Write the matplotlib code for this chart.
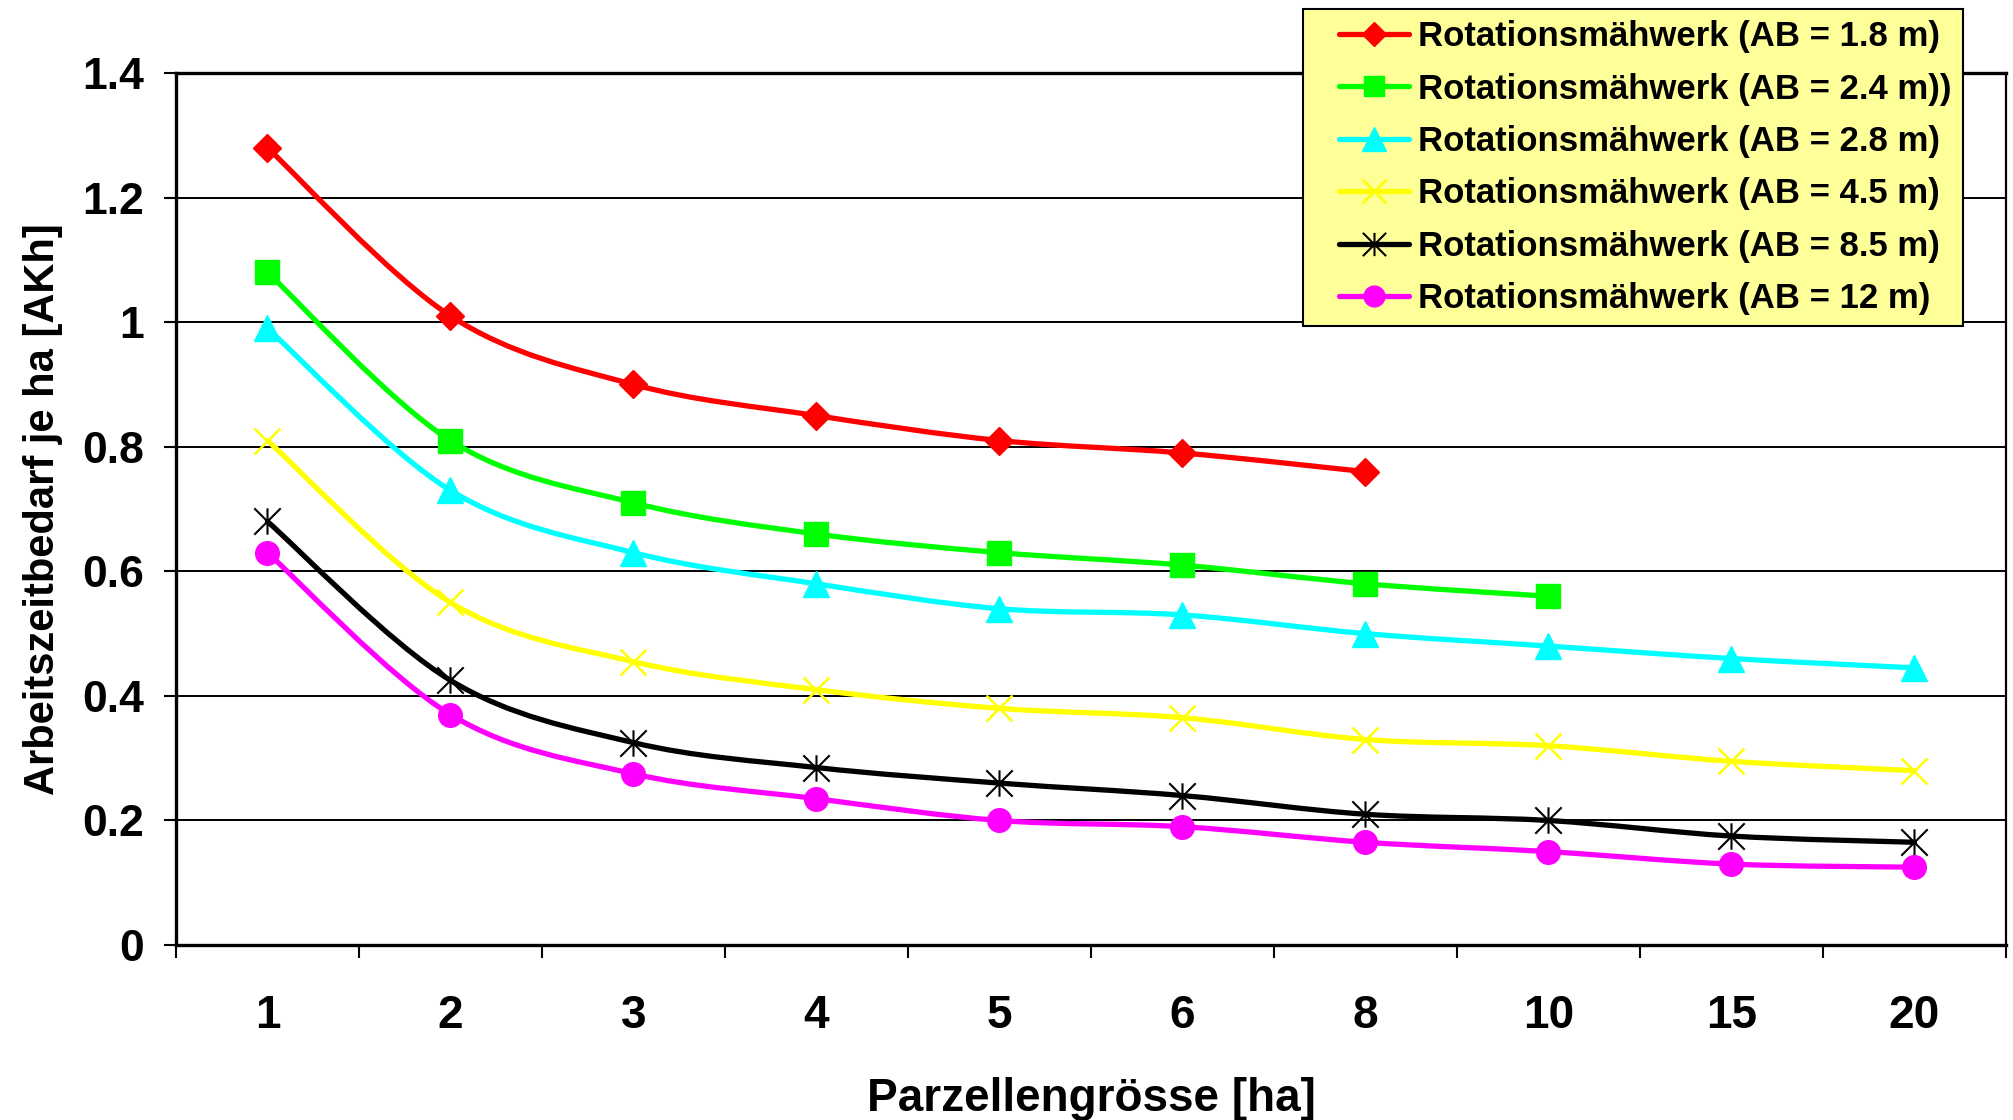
import matplotlib
matplotlib.use('Agg')
import matplotlib.pyplot as plt
import numpy as np
from matplotlib.path import Path
from matplotlib.patches import PathPatch
from matplotlib.lines import Line2D
from matplotlib.legend_handler import HandlerLine2D
from matplotlib.ticker import FuncFormatter, FixedLocator

plt.rcParams['font.family'] = ['Liberation Sans', 'DejaVu Sans']
plt.rcParams['font.weight'] = 'bold'
plt.rcParams['axes.labelweight'] = 'bold'

# Parzellengrösse [ha] (categorical axis)
parzellen = ['1', '2', '3', '4', '5', '6', '8', '10', '15', '20']

# Arbeitszeitbedarf je ha [AKh] per working width
ab_1_8 = [1.28, 1.01, 0.90, 0.85, 0.81, 0.79, 0.76]
ab_2_4 = [1.08, 0.81, 0.71, 0.66, 0.63, 0.61, 0.58, 0.56]
ab_2_8 = [0.99, 0.73, 0.63, 0.58, 0.54, 0.53, 0.50, 0.48, 0.46, 0.445]
ab_4_5 = [0.81, 0.55, 0.455, 0.41, 0.38, 0.365, 0.33, 0.32, 0.295, 0.28]
ab_8_5 = [0.68, 0.425, 0.325, 0.285, 0.26, 0.24, 0.21, 0.20, 0.175, 0.165]
ab_12 = [0.63, 0.37, 0.275, 0.235, 0.20, 0.19, 0.165, 0.15, 0.13, 0.125]

labels = ['Rotationsmähwerk (AB = 1.8 m)',
          'Rotationsmähwerk (AB = 2.4 m))',
          'Rotationsmähwerk (AB = 2.8 m)',
          'Rotationsmähwerk (AB = 4.5 m)',
          'Rotationsmähwerk (AB = 8.5 m)',
          'Rotationsmähwerk (AB = 12 m)']

# asterisk: vertical bar plus an X
star = Path([(0, -1), (0, 1), (-1, -1), (1, 1), (-1, 1), (1, -1)],
            [Path.MOVETO, Path.LINETO, Path.MOVETO, Path.LINETO, Path.MOVETO, Path.LINETO])

styles = [
    dict(color='#FF0000', marker='D', ms=14, mew=1),
    dict(color='#00FF00', marker='s', ms=17, mew=1),
    dict(color='#00FFFF', marker='^', ms=19, mew=1),
    dict(color='#FFFF00', marker='x', ms=19, mew=1.8),
    dict(color='#000000', marker=star, ms=19, mew=1.5),
    dict(color='#FF00FF', marker='o', ms=17, mew=1),
]
series = [ab_1_8, ab_2_4, ab_2_8, ab_4_5, ab_8_5, ab_12]


def smooth_path(x, y, k=1 / 6):
    # Bezier segments through the points (Excel-like smoothed line)
    pts = np.column_stack([x, y]).astype(float)
    n = len(pts)
    verts = [pts[0]]
    codes = [Path.MOVETO]
    for i in range(n - 1):
        p0 = pts[max(i - 1, 0)]
        p1 = pts[i]
        p2 = pts[i + 1]
        p3 = pts[min(i + 2, n - 1)]
        verts += [p1 + (p2 - p0) * k, p2 - (p3 - p1) * k, p2]
        codes += [Path.CURVE4] * 3
    return Path(verts, codes)


class InsetLineHandler(HandlerLine2D):
    # legend line that starts a bit to the right of the handle box
    def __init__(self, inset, **kw):
        super().__init__(**kw)
        self.inset = inset

    def create_artists(self, legend, orig_handle, xdescent, ydescent, width, height,
                       fontsize, trans):
        return super().create_artists(legend, orig_handle, xdescent - self.inset, ydescent,
                                      width - self.inset, height, fontsize, trans)


fig = plt.figure(figsize=(20.13, 11.2), dpi=100)
ax = fig.add_axes([0.0874, 0.1562, 0.9091, 0.7786])

lw = 3.8
handles = []
for vals, st, lab in zip(series, styles, labels):
    x = np.arange(len(vals))
    ax.add_patch(PathPatch(smooth_path(x, vals), facecolor='none', edgecolor=st['color'],
                           lw=lw, capstyle='round', joinstyle='round', zorder=3))
    ax.plot(x, vals, linestyle='none', marker=st['marker'], ms=st['ms'],
            color=st['color'], mec=st['color'], mew=st['mew'], zorder=4)
    handles.append(Line2D([], [], color=st['color'], lw=lw, marker=st['marker'],
                          ms=st['ms'] * 0.88, mec=st['color'], mew=st['mew'],
                          solid_capstyle='round'))

ax.set_xlim(-0.5, len(parzellen) - 0.5)
ax.set_ylim(0, 1.4)
ax.set_yticks(np.arange(0, 1.41, 0.2))
ax.yaxis.set_major_formatter(FuncFormatter(lambda v, p: '%g' % round(v, 1)))
ax.set_xticks(np.arange(len(parzellen)))
ax.set_xticklabels(parzellen)
ax.xaxis.set_minor_locator(FixedLocator(np.arange(-0.5, len(parzellen), 1.0)))
ax.tick_params(axis='x', which='major', length=0, pad=35, labelsize=33)
ax.tick_params(axis='x', which='minor', length=9, width=1.5, direction='out')
ax.tick_params(axis='y', length=9, width=1.5, direction='out', pad=14, labelsize=32)

ax.grid(axis='y', color='black', lw=1.4, zorder=1)
ax.set_axisbelow(True)
for side in ['left', 'bottom', 'top']:
    ax.spines[side].set_linewidth(2.4)
ax.spines['right'].set_linewidth(1.6)

ax.set_xlabel('Parzellengrösse [ha]', fontsize=33, labelpad=28)
ax.set_ylabel('Arbeitszeitbedarf je ha [AKh]', fontsize=30, labelpad=14)

leg = ax.legend(handles, labels, loc='upper left', bbox_to_anchor=(1303 / 2013, 1 - 9 / 1120),
                bbox_transform=fig.transFigure, borderaxespad=0, fontsize=25,
                handlelength=2.74, handletextpad=0.26, labelspacing=0.56,
                borderpad=0.32, frameon=True, fancybox=False, framealpha=1,
                handler_map={Line2D: InsetLineHandler(18)})
leg.get_frame().set_facecolor('#FFFF99')
leg.get_frame().set_edgecolor('black')
leg.get_frame().set_linewidth(1.5)
leg.set_zorder(10)

fig.savefig('out.png', dpi=100)
